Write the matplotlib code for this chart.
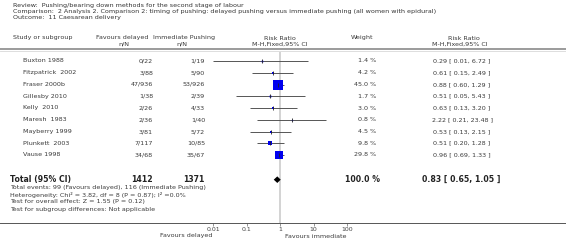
import numpy as np
import matplotlib
matplotlib.use("Agg")
import matplotlib.pyplot as plt
from matplotlib.transforms import blended_transform_factory
from matplotlib.lines import Line2D

# data
studies = ["Buxton 1988", "Fitzpatrick  2002", "Fraser 2000b", "Gillesby 2010", "Kelly  2010",
           "Maresh  1983", "Mayberry 1999", "Plunkett  2003", "Vause 1998"]
delayed_events = [0, 3, 47, 1, 2, 2, 3, 7, 34]
delayed_total = [22, 88, 936, 38, 26, 36, 81, 117, 68]
immediate_events = [1, 5, 53, 2, 4, 1, 5, 10, 35]
immediate_total = [19, 90, 926, 39, 33, 40, 72, 85, 67]
weights = [1.4, 4.2, 45.0, 1.7, 3.0, 0.8, 4.5, 9.8, 29.8]
rr = [0.29, 0.61, 0.88, 0.51, 0.63, 2.22, 0.53, 0.51, 0.96]
rr_lo = [0.01, 0.15, 0.60, 0.05, 0.13, 0.21, 0.13, 0.20, 0.69]
rr_hi = [6.72, 2.49, 1.29, 5.43, 3.20, 23.48, 2.15, 1.28, 1.33]

total_rr, total_lo, total_hi = 0.83, 0.65, 1.05
ticks = [0.01, 0.1, 1, 10, 100]
tick_labels = ["0.01", "0.1", "1", "10", "100"]

W, H = 566, 241
fig = plt.figure(figsize=(W / 100, H / 100), dpi=100)
fig.patch.set_facecolor("white")

def fx(x):
    return x / W

def fy(y):
    return 1 - y / H

row_h = 11.75
row0 = 61
top_px, bot_px = 52, 223
ax = fig.add_axes([fx(213), fy(bot_px), fx(347) - fx(213), (bot_px - top_px) / H])
ax.set_xscale("log")
ax.set_xlim(0.01, 100)
ax.set_ylim((bot_px - row0) / row_h, (top_px - row0) / row_h)
for s in ax.spines.values():
    s.set_visible(False)
ax.set_yticks([])
ax.set_xticks(ticks)
ax.set_xticklabels(tick_labels)
ax.minorticks_off()
ax.tick_params(axis="x", length=2, width=0.4, pad=1, labelsize=4.5, colors="#444444")
ax.axvline(1, color="#d0d0d0", lw=1.3, zorder=0)

rows = np.arange(len(studies))
ax.hlines(rows, rr_lo, rr_hi, color="#555555", lw=0.7)
sizes = 1.4 * np.sqrt(weights) * 0.72
for r, x, s in zip(rows, rr, sizes):
    ax.plot(x, r, marker="s", ms=s, color="#0000ee", mec="#0000ee", mew=0, zorder=3)
ax.plot(rr, rows, linestyle="none", marker="|", ms=2.4, mew=0.6, color="#222222", zorder=4)

total_row = 10.1
ax.fill([total_lo, total_rr, total_hi, total_rr],
        [total_row, total_row - 0.28, total_row, total_row + 0.28], color="black", lw=0)

tr = blended_transform_factory(fig.transFigure, ax.transData)
txt = "#3a3a3a"
fs = 4.6

# title block
fig.text(fx(13), fy(6), "Review:  Pushing/bearing down methods for the second stage of labour",
         fontsize=fs, color="#333333", va="center")
fig.text(fx(13), fy(11.5), "Comparison:  2 Analysis 2. Comparison 2: timing of pushing: delayed pushing versus immediate pushing (all women with epidural)",
         fontsize=fs, color="#333333", va="center")
fig.text(fx(13), fy(17), "Outcome:  11 Caesarean delivery", fontsize=fs, color="#333333", va="center")

# column headers
fig.text(fx(13), fy(38), "Study or subgroup", fontsize=fs, color=txt, va="center")
fig.text(fx(148), fy(38), "Favours delayed", fontsize=fs, color=txt, va="center", ha="right")
fig.text(fx(124), fy(44), "n/N", fontsize=fs, color=txt, va="center", ha="center")
fig.text(fx(153), fy(38), "Immediate Pushing", fontsize=fs, color=txt, va="center", ha="left")
fig.text(fx(182), fy(44), "n/N", fontsize=fs, color=txt, va="center", ha="center")
fig.text(fx(280), fy(38), "Risk Ratio", fontsize=fs, color=txt, va="center", ha="center")
fig.text(fx(280), fy(44), "M-H,Fixed,95% CI", fontsize=fs, color=txt, va="center", ha="center")
fig.text(fx(362), fy(38), "Weight", fontsize=fs, color=txt, va="center", ha="center")
fig.text(fx(464), fy(38), "Risk Ratio", fontsize=fs, color=txt, va="center", ha="center")
fig.text(fx(460), fy(44), "M-H,Fixed,95% CI", fontsize=fs, color=txt, va="center", ha="center")

fig.add_artist(Line2D([0, 1], [fy(49), fy(49)], transform=fig.transFigure, color="#8a8a8a", lw=1.2))
fig.add_artist(Line2D([0, 1], [fy(50.5), fy(50.5)], transform=fig.transFigure, color="#d8d8d8", lw=0.6))
fig.add_artist(Line2D([0, 1], [fy(bot_px), fy(bot_px)], transform=fig.transFigure, color="#555555", lw=0.7))

# study rows
for r in rows:
    fig.text(fx(23), r, studies[r], transform=tr, fontsize=fs, color=txt, va="center")
    fig.text(fx(153), r, f"{delayed_events[r]}/{delayed_total[r]}", transform=tr,
             fontsize=fs, color=txt, va="center", ha="right")
    fig.text(fx(205), r, f"{immediate_events[r]}/{immediate_total[r]}", transform=tr,
             fontsize=fs, color=txt, va="center", ha="right")
    fig.text(fx(376), r, f"{weights[r]:.1f} %", transform=tr, fontsize=fs, color=txt,
             va="center", ha="right")
    fig.text(fx(462), r, f"{rr[r]:.2f} [ {rr_lo[r]:.2f}, {rr_hi[r]:.2f} ]", transform=tr,
             fontsize=fs, color=txt, va="center", ha="center")

# total row
bfs = 5.6
fig.text(fx(10), total_row, "Total (95% CI)", transform=tr, fontsize=bfs, weight="bold",
         color="#222222", va="center")
fig.text(fx(153), total_row, f"{sum(delayed_total)}", transform=tr, fontsize=bfs, weight="bold",
         color="#222222", va="center", ha="right")
fig.text(fx(205), total_row, f"{sum(immediate_total)}", transform=tr, fontsize=bfs, weight="bold",
         color="#222222", va="center", ha="right")
fig.text(fx(380), total_row, "100.0 %", transform=tr, fontsize=bfs, weight="bold",
         color="#222222", va="center", ha="right")
fig.text(fx(461), total_row, f"{total_rr:.2f} [ {total_lo:.2f}, {total_hi:.2f} ]", transform=tr,
         fontsize=bfs, weight="bold", color="#222222", va="center", ha="center")

footer = [
    f"Total events: {sum(delayed_events)} (Favours delayed), {sum(immediate_events)} (Immediate Pushing)",
    "Heterogeneity: Chi\u00b2 = 3.82, df = 8 (P = 0.87); I\u00b2 =0.0%",
    "Test for overall effect: Z = 1.55 (P = 0.12)",
    "Test for subgroup differences: Not applicable",
]
for i, line in enumerate(footer):
    fig.text(fx(10), fy(188 + 7 * i), line, fontsize=fs, color=txt, va="center")

fig.text(fx(213), fy(236), "Favours delayed", fontsize=fs, color=txt, va="center", ha="right")
fig.text(fx(285), fy(236), "Favours immediate", fontsize=fs, color=txt, va="center", ha="left")

fig.savefig("out.png", dpi=100)
